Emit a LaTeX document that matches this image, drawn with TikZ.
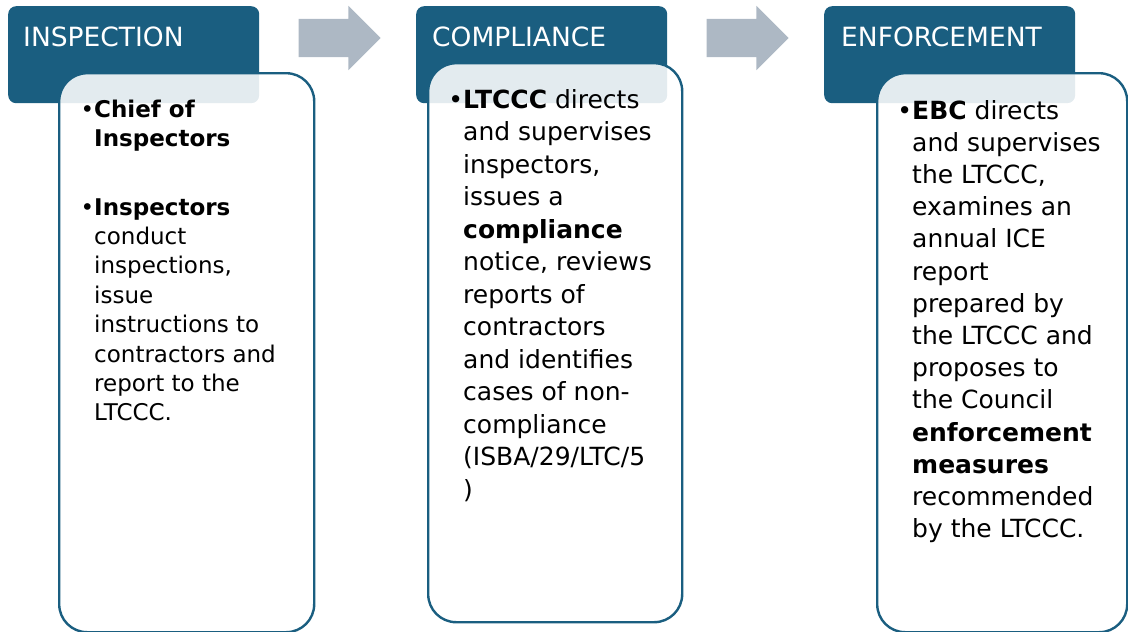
\documentclass[tikz,border=0pt]{standalone}
\usepackage{fontspec}
\setmainfont{DejaVu Sans}
\usetikzlibrary{shapes.arrows}
\definecolor{headblue}{HTML}{1A5E80}
\definecolor{arrowgray}{HTML}{ADB8C4}
\newcommand\cardlines[1]{\vtop{#1}}
\begin{document}
\begin{tikzpicture}[x=1pt, y=-1pt,
    head/.style = {fill=headblue, rounded corners=8pt, anchor=north west, inner sep=0pt, minimum width=251pt, minimum height=97pt},
    card/.style = {draw=headblue, line width=2.4pt, fill=white, fill opacity=0.88, rounded corners=28pt, anchor=north west, inner sep=0pt, minimum height=559pt},
    title/.style = {anchor=base west, text=white, inner sep=0pt, font=\fontsize{26.5}{30}\selectfont},
    body/.style = {anchor=base west, inner sep=0pt, font=\fontsize{25}{32.5}\selectfont},
    pointer/.style = {single arrow, fill=arrowgray, inner xsep=0pt, inner ysep=19pt, minimum width=64pt, minimum height=82pt, single arrow head extend=13pt}]
  \useasboundingbox (0,0) rectangle (1128,632);

  \node[head] (1) at (8,6) {};
  \node[head] (2) at (416,6) {};
  \node[head] (3) at (824,6) {};
  \node[title] (t1) at (23,46) {INSPECTION};
  \node[title] (t2) at (432,46) {COMPLIANCE};
  \node[title] (t3) at (841,46) {ENFORCEMENT};

  \node[pointer] (a1) at (330,38) {};
  \node[pointer] (a2) at (738,38) {};

  \node[card, minimum width=255pt] (c1) at (58,72) {};
  \node[card, minimum width=254pt] (c2) at (427,62) {};
  \node[card, minimum width=250pt] (c3) at (876,72) {};

  \node[body, font=\fontsize{23}{29.4}\selectfont] (b1) at (94,117) {\cardlines{
      \hbox{\llap{•}\textbf{Chief of}}
      \hbox{\textbf{Inspectors}}}};
  \node[body, font=\fontsize{23}{29.4}\selectfont] (b2) at (94,215) {\cardlines{
      \hbox{\llap{•}\textbf{Inspectors}}
      \hbox{conduct}
      \hbox{inspections,}
      \hbox{issue}
      \hbox{instructions to}
      \hbox{contractors and}
      \hbox{report to the}
      \hbox{LTCCC.}}};
  \node[body] (b3) at (463,108) {\cardlines{
      \hbox{\llap{•}\textbf{LTCCC} directs}
      \hbox{and supervises}
      \hbox{inspectors,}
      \hbox{issues a}
      \hbox{\textbf{compliance}}
      \hbox{notice, reviews}
      \hbox{reports of}
      \hbox{contractors}
      \hbox{and identifies}
      \hbox{cases of non-}
      \hbox{compliance}
      \hbox{(ISBA/29/LTC/5}
      \hbox{)}}};
  \node[body, font=\fontsize{25}{32.2}\selectfont] (b4) at (912,119) {\cardlines{
      \hbox{\llap{•}\textbf{EBC} directs}
      \hbox{and supervises}
      \hbox{the LTCCC,}
      \hbox{examines an}
      \hbox{annual ICE}
      \hbox{report}
      \hbox{prepared by}
      \hbox{the LTCCC and}
      \hbox{proposes to}
      \hbox{the Council}
      \hbox{\textbf{enforcement}}
      \hbox{\textbf{measures}}
      \hbox{recommended}
      \hbox{by the LTCCC.}}};
\end{tikzpicture}
\end{document}
